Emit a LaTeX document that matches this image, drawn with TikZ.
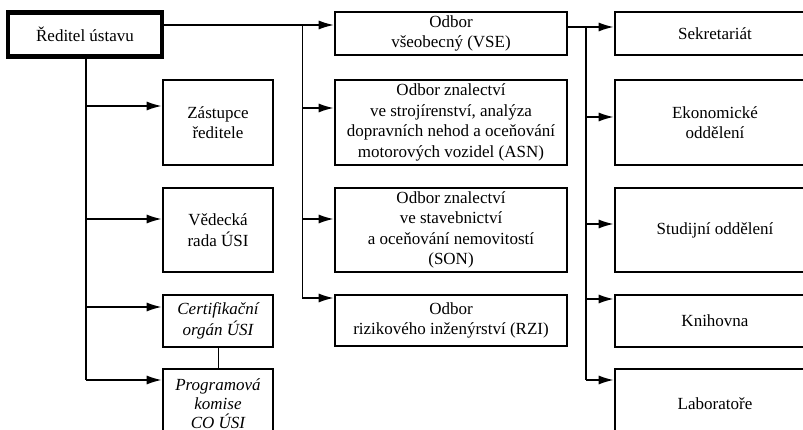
\documentclass[tikz,border=0pt]{standalone}
\usepackage{fontspec}
\setmainfont{Liberation Serif}
\usetikzlibrary{arrows.meta,positioning}
\newcommand\boxfont{\fontsize{17}{20.5}\selectfont}
\begin{document}
\begin{tikzpicture}[x=1pt, y=-1pt, -{Latex[length=15pt,width=9pt]}, node distance=20.4pt, line width=1.6pt,
main/.style = {draw, line width=2.6pt, align=center, inner sep=1pt, font=\boxfont},
colA/.style = {main, minimum width=110pt},
colB/.style = {main, minimum width=232pt},
colC/.style = {main, minimum width=200pt}]
    \useasboundingbox (0,0) rectangle (803,430);

    \node[main, line width=4.5pt, minimum width=154pt, minimum height=44pt] (1) at (85,34.5) {Ředitel ústavu};

    \node[colA, minimum height=85pt] (2) at (218,122.5) {Zástupce\\ředitele};
    \node[colA, minimum height=84pt] (3) [below=of 2] {Vědecká\\rada ÚSI};
    \node[colA, minimum height=52pt, font=\boxfont\itshape] (4) [below=of 3] {Certifikační\\orgán ÚSI};
    \node[colA, minimum height=70pt, font=\fontsize{17}{19}\selectfont\itshape, text depth=0pt, anchor=north] (5) [below=19.4pt of 4] {Programová\\komise\\CO ÚSI};

    \node[colB, minimum height=43pt] (6) at (451,33.5) {Odbor\\všeobecný (VSE)};
    \node[colB, minimum height=85pt] (7) [below=22.4pt of 6] {Odbor znalectví\\ve strojírenství, analýza\\dopravních nehod a oceňování\\motorových vozidel (ASN)};
    \node[colB, minimum height=84pt] (8) [below=of 7] {Odbor znalectví\\ve stavebnictví\\a oceňování nemovitostí\\(SON)};
    \node[colB, minimum height=51pt] (9) [below=of 8] {Odbor\\rizikového inženýrství (RZI)};

    \node[colC, minimum height=43pt] (10) at (715,33.5) {Sekretariát};
    \node[colC, minimum height=85pt] (11) [below=22.4pt of 10] {Ekonomické\\oddělení};
    \node[colC, minimum height=84pt] (12) [below=of 11] {Studijní oddělení};
    \node[colC, minimum height=52pt] (13) [below=of 12] {Knihovna};
    \node[colC, minimum height=70pt] (14) [below=19.4pt of 13] {Laboratoře};

    \foreach \n/\y in {2/106, 3/219, 4/307, 5/380} {
        \coordinate (s\n) at (86,\y);
        \draw (s\n) -- (s\n -| \n.west);
    }
    \draw[-] (1.south -| s2) -- (s5);

    \foreach \n/\y in {6/25, 7/108, 8/219, 9/298} \coordinate (m\n) at (302,\y);
    \draw[line width=1.2pt] (1.east |- m6) -- (m6 -| 6.west);
    \foreach \n in {7,8,9} \draw (m\n) -- (m\n -| \n.west);
    \draw[-, line width=1pt] (m6) -- (m9);

    \foreach \n/\y in {10/27, 11/117, 12/224, 13/299, 14/380} \coordinate (r\n) at (586,\y);
    \draw (6.east |- r10) -- (r10 -| 10.west);
    \foreach \n in {11,12,13,14} \draw (r\n) -- (r\n -| \n.west);
    \draw[-, line width=2pt] (r10) -- (r14);

    \draw[-, line width=0.8pt] (4.south) -- (5.north);
\end{tikzpicture}
\end{document}
